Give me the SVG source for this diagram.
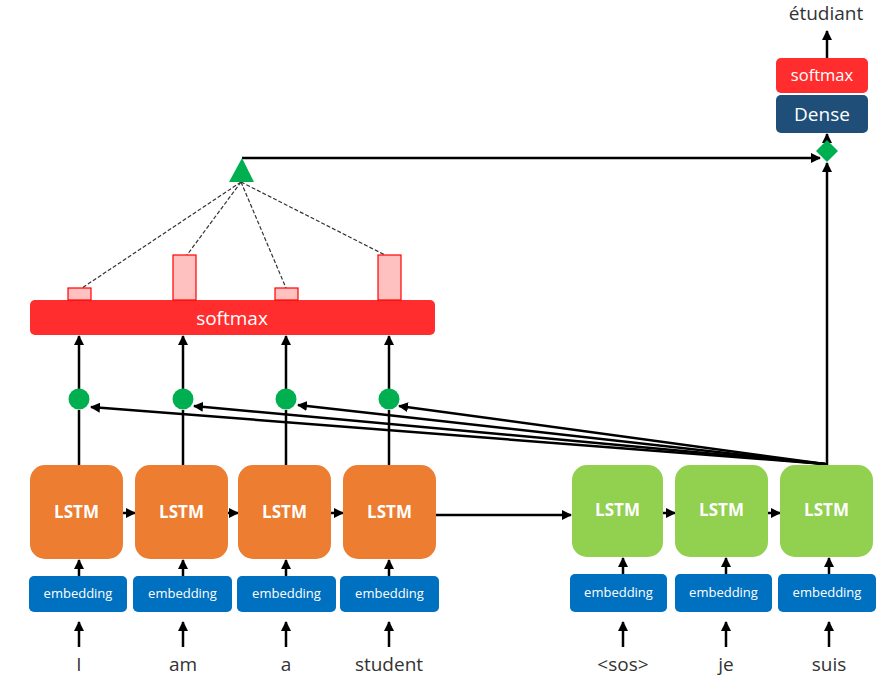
<svg xmlns="http://www.w3.org/2000/svg" width="890" height="694" viewBox="0 0 890 694">
<defs>
<marker id="ah" viewBox="0 0 10 10" refX="9" refY="5" markerWidth="4" markerHeight="4" orient="auto" markerUnits="strokeWidth"><path d="M0,0 L10,5 L0,10 z" fill="#000"/></marker>
<style>
text{font-family:"Open Sans","Noto Sans","Liberation Sans",sans-serif;}
.enc{fill:#ED7D31;}
.dec{fill:#92D050;}
.emb{fill:#0070C0;}
.lstm{fill:#fff;font-size:17px;font-weight:bold;text-anchor:middle;}
.embt{fill:#fff;font-size:13px;text-anchor:middle;}
.word{fill:#333;font-size:19px;text-anchor:middle;}
.ln{stroke:#000;stroke-width:2.5;fill:none;}
.lna{stroke:#000;stroke-width:2.5;fill:none;marker-end:url(#ah);}
.dash{stroke:#333;stroke-width:1.2;stroke-dasharray:4,2;fill:none;}
.bar{fill:#FFC0C0;stroke:#FF0000;stroke-width:1.2;}
.dot{fill:#00B050;}
</style>
</defs>
<rect width="890" height="694" fill="#fff"/>
<g id="connectors">
<line class="lna" x1="79" y1="647" x2="79" y2="622"/>
<line class="lna" x1="183" y1="647" x2="183" y2="622"/>
<line class="lna" x1="286" y1="647" x2="286" y2="622"/>
<line class="lna" x1="389" y1="647" x2="389" y2="622"/>
<line class="lna" x1="623" y1="647" x2="623" y2="622"/>
<line class="lna" x1="726" y1="647" x2="726" y2="622"/>
<line class="lna" x1="829" y1="647" x2="829" y2="622"/>
<line class="lna" x1="79" y1="576" x2="79" y2="560"/>
<line class="lna" x1="183" y1="576" x2="183" y2="560"/>
<line class="lna" x1="286" y1="576" x2="286" y2="560"/>
<line class="lna" x1="389" y1="576" x2="389" y2="560"/>
<line class="lna" x1="623" y1="574" x2="623" y2="558"/>
<line class="lna" x1="726" y1="574" x2="726" y2="558"/>
<line class="lna" x1="829" y1="574" x2="829" y2="558"/>
<line class="lna" x1="123" y1="513" x2="135" y2="513"/>
<line class="lna" x1="228" y1="513" x2="238" y2="513"/>
<line class="lna" x1="331" y1="513" x2="343" y2="513"/>
<line class="lna" x1="436" y1="515" x2="571" y2="515"/>
<line class="lna" x1="663" y1="513" x2="675" y2="513"/>
<line class="lna" x1="768" y1="513" x2="780" y2="513"/>
<line class="ln" x1="79" y1="465" x2="79" y2="410"/>
<line class="ln" x1="183" y1="465" x2="183" y2="410"/>
<line class="ln" x1="286" y1="465" x2="286" y2="410"/>
<line class="ln" x1="389" y1="465" x2="389" y2="410"/>
<line class="lna" x1="79" y1="389" x2="79" y2="336"/>
<line class="lna" x1="183" y1="389" x2="183" y2="336"/>
<line class="lna" x1="286" y1="389" x2="286" y2="336"/>
<line class="lna" x1="389" y1="389" x2="389" y2="336"/>
<line class="lna" x1="825" y1="464" x2="91" y2="407"/>
<line class="lna" x1="825" y1="464" x2="194" y2="406"/>
<line class="lna" x1="825" y1="464" x2="298" y2="405"/>
<line class="lna" x1="825" y1="464" x2="399" y2="406"/>
<line class="ln" x1="825" y1="464" x2="827" y2="464"/>
<line class="lna" x1="827" y1="465" x2="827" y2="163"/>
<line class="lna" x1="242" y1="158" x2="820" y2="158"/>
<line class="lna" x1="827" y1="142" x2="827" y2="134"/>
<line class="lna" x1="827" y1="58" x2="827" y2="31"/>
<line class="dash" x1="241" y1="182" x2="82" y2="288"/>
<line class="dash" x1="241" y1="182" x2="187" y2="255"/>
<line class="dash" x1="241" y1="182" x2="286" y2="288"/>
<line class="dash" x1="241" y1="182" x2="385" y2="255"/>
</g>
<g id="word-I"><text class="word" x="79" y="671">I</text></g>
<g id="word-am"><text class="word" x="183" y="671">am</text></g>
<g id="word-a"><text class="word" x="286" y="671">a</text></g>
<g id="word-student"><text class="word" x="389" y="671">student</text></g>
<g id="word-sos"><text class="word" x="623" y="671">&lt;sos&gt;</text></g>
<g id="word-je"><text class="word" x="726" y="671">je</text></g>
<g id="word-suis"><text class="word" x="829" y="671">suis</text></g>
<g id="emb1"><rect class="emb" x="29" y="576" width="98" height="36" rx="5"/><text class="embt" x="78" y="598">embedding</text></g>
<g id="emb2"><rect class="emb" x="133" y="576" width="99" height="36" rx="5"/><text class="embt" x="182.5" y="598">embedding</text></g>
<g id="emb3"><rect class="emb" x="237" y="576" width="99" height="36" rx="5"/><text class="embt" x="286.5" y="598">embedding</text></g>
<g id="emb4"><rect class="emb" x="340" y="576" width="99" height="36" rx="5"/><text class="embt" x="389.5" y="598">embedding</text></g>
<g id="emb5"><rect class="emb" x="570" y="574" width="97" height="38" rx="5"/><text class="embt" x="618.5" y="597">embedding</text></g>
<g id="emb6"><rect class="emb" x="675" y="574" width="97" height="38" rx="5"/><text class="embt" x="723.5" y="597">embedding</text></g>
<g id="emb7"><rect class="emb" x="778" y="574" width="98" height="38" rx="5"/><text class="embt" x="827" y="597">embedding</text></g>
<g id="enc1"><rect class="enc" x="30" y="465" width="93" height="94" rx="15"/><text class="lstm" x="76.5" y="518">LSTM</text></g>
<g id="enc2"><rect class="enc" x="135" y="465" width="93" height="94" rx="15"/><text class="lstm" x="181.5" y="518">LSTM</text></g>
<g id="enc3"><rect class="enc" x="238" y="465" width="93" height="94" rx="15"/><text class="lstm" x="284.5" y="518">LSTM</text></g>
<g id="enc4"><rect class="enc" x="343" y="465" width="93" height="94" rx="15"/><text class="lstm" x="389.5" y="518">LSTM</text></g>
<g id="dec1"><rect class="dec" x="572" y="465" width="91" height="92" rx="15"/><text class="lstm" x="617.5" y="516">LSTM</text></g>
<g id="dec2"><rect class="dec" x="675" y="465" width="93" height="92" rx="15"/><text class="lstm" x="721.5" y="516">LSTM</text></g>
<g id="dec3"><rect class="dec" x="780" y="465" width="93" height="92" rx="15"/><text class="lstm" x="826.5" y="516">LSTM</text></g>
<g id="dot1"><circle class="dot" cx="79" cy="399" r="10.5"/></g>
<g id="dot2"><circle class="dot" cx="183" cy="399" r="10.5"/></g>
<g id="dot3"><circle class="dot" cx="286" cy="399" r="10.5"/></g>
<g id="dot4"><circle class="dot" cx="389" cy="399" r="10.5"/></g>
<g id="softmax-attn"><rect x="30" y="300" width="405" height="35" rx="5" fill="#FF2D2D"/><text x="232" y="325" fill="#fff" font-size="19" text-anchor="middle">softmax</text></g>
<g id="bars">
<rect class="bar" x="68" y="288" width="23" height="12"/>
<rect class="bar" x="173" y="255" width="23" height="45"/>
<rect class="bar" x="275" y="288" width="23" height="12"/>
<rect class="bar" x="378" y="255" width="23" height="45"/>
</g>
<g id="triangle"><polygon points="242,158 254,182 229,182" fill="#00B050"/></g>
<g id="diamond"><polygon points="827,140 838,151 827,162 816,151" fill="#00B050"/></g>
<g id="dense"><rect x="776" y="95" width="92" height="38" rx="5" fill="#1F4E79"/><text x="822" y="121" fill="#fff" font-size="19" text-anchor="middle">Dense</text></g>
<g id="softmax-out"><rect x="776" y="58" width="92" height="35" rx="5" fill="#FF2D2D"/><text x="822" y="81" fill="#fff" font-size="16.5" text-anchor="middle">softmax</text></g>
<g id="output"><text x="826" y="20" fill="#333" font-size="19" text-anchor="middle">étudiant</text></g>
</svg>
